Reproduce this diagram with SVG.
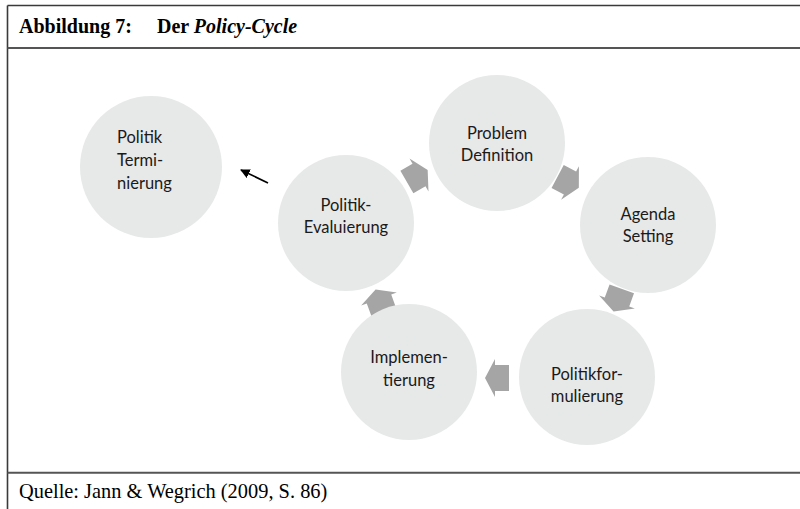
<svg xmlns="http://www.w3.org/2000/svg" xmlns:xlink="http://www.w3.org/1999/xlink" width="800" height="509" viewBox="0 0 800 509">
<style>
.frame{stroke:#3a3a3a;stroke-width:1.6;fill:none}
.node{fill:#e7e8e8}
.lbl{font-family:Lato,"Open Sans",sans-serif;font-size:16.5px;fill:#1a1a1a;text-anchor:middle}
.lbll{font-family:Lato,"Open Sans",sans-serif;font-size:16.5px;fill:#1a1a1a}
.ser{font-family:"Liberation Serif","Times New Roman",serif;fill:#000}
.garrow{fill:#a5a5a5}
</style>
<defs>
<polygon id="ga" points="10,0 0,-19 0,-13 -14,-13 -14,13 0,13 0,19"/>
<marker id="ah" viewBox="0 0 10 10" refX="9" refY="5" markerWidth="6" markerHeight="6" orient="auto" markerUnits="strokeWidth">
<path d="M0,0 L10,5 L0,10 z" fill="#000"/>
</marker>
</defs>
<rect width="800" height="509" fill="#fff"/>
<g id="frame">
<line class="frame" x1="7.5" y1="5.5" x2="800" y2="5.5"/>
<line class="frame" x1="7.5" y1="5.5" x2="7.5" y2="509"/>
<line class="frame" x1="7.5" y1="48" x2="800" y2="48" style="stroke:#555;stroke-width:2"/>
<line class="frame" x1="7.5" y1="472.8" x2="800" y2="472.8" style="stroke:#555;stroke-width:2"/>
<text class="ser" x="19" y="33" font-size="20" font-weight="bold">Abbildung 7:</text>
<text class="ser" x="157" y="33" font-size="20" font-weight="bold">Der <tspan font-style="italic">Policy-Cycle</tspan></text>
<text class="ser" x="19" y="498" font-size="20.4">Quelle: Jann &amp; Wegrich (2009, S. 86)</text>
</g>
<g id="connectors">
<g class="garrow">
<use xlink:href="#ga" transform="translate(570,183) rotate(28)"/>
<use xlink:href="#ga" transform="translate(617,302) rotate(110)"/>
<use xlink:href="#ga" transform="translate(495,378) rotate(180)"/>
<use xlink:href="#ga" transform="translate(379,299) rotate(-110)"/>
<use xlink:href="#ga" transform="translate(419,175) rotate(-30)"/>
</g>
<line x1="268" y1="183" x2="241" y2="170" stroke="#000" stroke-width="1.6" marker-end="url(#ah)"/>
</g>
<g id="n-terminierung">
<circle class="node" cx="151" cy="167" r="71"/>
<text class="lbll" x="117" y="143">Politik</text>
<text class="lbll" x="117" y="166">Termi-</text>
<text class="lbll" x="117" y="189">nierung</text>
</g>
<g id="n-evaluierung">
<circle class="node" cx="346" cy="223" r="68"/>
<text class="lbl" x="346" y="211">Politik-</text>
<text class="lbl" x="346" y="233">Evaluierung</text>
</g>
<g id="n-problem">
<circle class="node" cx="497" cy="143" r="68"/>
<text class="lbl" x="497" y="139">Problem</text>
<text class="lbl" x="497" y="161">Definition</text>
</g>
<g id="n-agenda">
<circle class="node" cx="648" cy="225" r="68"/>
<text class="lbl" x="648" y="220">Agenda</text>
<text class="lbl" x="648" y="242">Setting</text>
</g>
<g id="n-formulierung">
<circle class="node" cx="587" cy="377" r="68"/>
<text class="lbl" x="587" y="380">Politikfor-</text>
<text class="lbl" x="587" y="402">mulierung</text>
</g>
<g id="n-implementierung">
<circle class="node" cx="409" cy="372" r="68"/>
<text class="lbl" x="409" y="363">Implemen-</text>
<text class="lbl" x="409" y="386">tierung</text>
</g>
</svg>
